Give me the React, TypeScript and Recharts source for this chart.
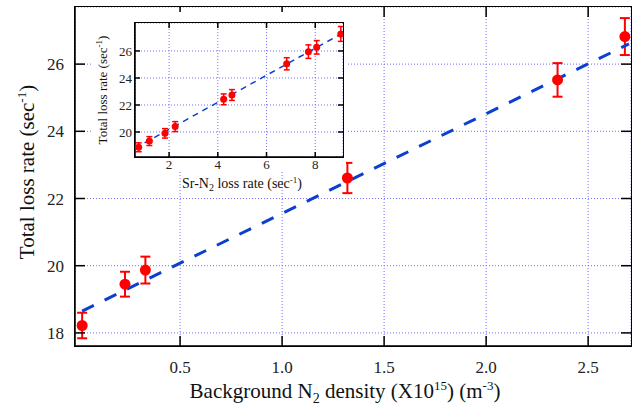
import { ScatterChart, Scatter, XAxis, YAxis, CartesianGrid, ErrorBar, Label } from 'recharts';

// main plot: total loss rate vs background N2 density
const densityX = [0.02, 0.23, 0.33, 1.32, 2.35, 2.68];
const totalLoss = [18.22, 19.45, 19.87, 22.61, 25.53, 26.82];
const totalErr = [0.38, 0.37, 0.4, 0.45, 0.5, 0.55];
const fitX = [0.02, 2.7];
const fitY = [18.65, 26.6];
const mainXTicks = [0.5, 1.0, 1.5, 2.0, 2.5];
const mainYTicks = [18, 20, 22, 24, 26];
const mainXDomain = [-0.015, 2.71];
const mainYDomain = [17.61, 27.7];

// inset: total loss rate vs Sr-N2 loss rate
const srLossX = [0.75, 1.19, 1.83, 2.25, 4.24, 4.58, 6.83, 7.72, 8.06, 9.05];
const insetLoss = [18.87, 19.33, 19.9, 20.4, 22.42, 22.74, 25.05, 25.95, 26.27, 27.26];
const insetErr = [0.33, 0.33, 0.35, 0.37, 0.4, 0.4, 0.45, 0.5, 0.5, 0.55];
const insetFitX = [0.6, 9.1];
const insetFitY = [18.8, 27.3];
const insetXTicks = [2, 4, 6, 8];
const insetYTicks = [20, 22, 24, 26];
const insetXDomain = [0.6, 9.14];
const insetYDomain = [18.15, 28.07];

const FONT = 'Liberation Serif';
const GRID = '#7070ff';
const RED = '#ff0000';
const BLUE = '#0c3fd0';

const mainPoints = densityX.map((x, i) => ({ x, y: totalLoss[i], err: totalErr[i] }));
const mainFit = fitX.map((x, i) => ({ x, y: fitY[i] }));
const insetPoints = srLossX.map((x, i) => ({ x, y: insetLoss[i], err: insetErr[i] }));
const insetFit = insetFitX.map((x, i) => ({ x, y: insetFitY[i] }));

const noShape = () => <g />;
const serif = { fontFamily: FONT };

function MainXTitle() {
  return (
    <text x={345} y={398} textAnchor="middle" fontFamily={FONT} style={serif} fontSize={21} fill="#111">
      Background N<tspan dy={5} fontSize={14}>2</tspan>
      <tspan dy={-5}> density (X10</tspan>
      <tspan dy={-8} fontSize={13}>15</tspan>
      <tspan dy={8}>) (m</tspan>
      <tspan dy={-8} fontSize={13}>-3</tspan>
      <tspan dy={8}>)</tspan>
    </text>
  );
}

function MainYTitle() {
  return (
    <text
      x={34}
      y={172}
      transform="rotate(-90, 34, 172)"
      textAnchor="middle"
      fontFamily={FONT}
      style={serif}
      fontSize={21}
      fill="#111"
    >
      Total loss rate (sec<tspan dy={-8} fontSize={13}>-1</tspan>
      <tspan dy={8}>)</tspan>
    </text>
  );
}

function InsetXTitle() {
  return (
    <text x={149} y={176} textAnchor="middle" fontFamily={FONT} style={serif} fontSize={14} fill="#111">
      Sr-N<tspan dy={3} fontSize={10}>2</tspan>
      <tspan dy={-3}> loss rate (sec</tspan>
      <tspan dy={-5} fontSize={9}>-1</tspan>
      <tspan dy={5}>)</tspan>
    </text>
  );
}

function InsetYTitle() {
  return (
    <text
      x={14}
      y={78}
      transform="rotate(-90, 14, 78)"
      textAnchor="middle"
      fontFamily={FONT}
      style={serif}
      fontSize={13}
      fill="#111"
    >
      Total loss rate (sec<tspan dy={-5} fontSize={9}>-1</tspan>
      <tspan dy={5}>)</tspan>
    </text>
  );
}

const axisLine = { stroke: '#000', strokeWidth: 1.5 };
const tickLine = { stroke: '#000', strokeWidth: 1.5 };

// separate overlay holding only the top and right tick marks (inward)
function MirrorAxes(props: {
  w: number; h: number; margin: any; xd: number[]; yd: number[];
  xt: number[]; yt: number[]; size: number; data: any[];
}) {
  const { w, h, margin, xd, yd, xt, yt, size, data } = props;
  return (
    <ScatterChart width={w} height={h} margin={margin}>
      <XAxis orientation="top" type="number" dataKey="x" domain={xd} ticks={xt} allowDataOverflow
        height={1} tickSize={-size} axisLine={false} tickLine={tickLine} tick={noShape} />
      <YAxis orientation="right" type="number" dataKey="y" domain={yd} ticks={yt} allowDataOverflow
        width={1} tickSize={-size} axisLine={false} tickLine={tickLine} tick={noShape} />
      <Scatter data={data} shape={noShape} isAnimationActive={false} />
    </ScatterChart>
  );
}

export default function App() {
  const mainTick = { fill: '#222', fontSize: 17, fontFamily: FONT, style: serif };
  const insetTick = { fill: '#222', fontSize: 13, fontFamily: FONT, style: serif };
  return (
    <div style={{ position: 'absolute', left: 0, top: 0, width: 634, height: 408, background: '#fff' }}>
      <ScatterChart width={634} height={408} margin={{ top: 7, right: 3, left: 0, bottom: 0 }}>
        <CartesianGrid stroke={GRID} strokeDasharray="1 2" strokeWidth={1} />
        <XAxis
          type="number"
          dataKey="x"
          domain={mainXDomain}
          ticks={mainXTicks}
          tickFormatter={(v: number) => v.toFixed(1)}
          allowDataOverflow
          height={62}
          tickSize={-10}
          tickMargin={25}
          axisLine={axisLine}
          tickLine={tickLine}
          tick={mainTick}
        >
          <Label content={MainXTitle} />
        </XAxis>
        <YAxis
          type="number"
          dataKey="y"
          domain={mainYDomain}
          ticks={mainYTicks}
          allowDataOverflow
          width={75}
          tickSize={-10}
          tickMargin={21}
          axisLine={axisLine}
          tickLine={tickLine}
          tick={mainTick}
        >
          <Label content={MainYTitle} />
        </YAxis>
        <Scatter
          data={mainFit}
          line={{ stroke: BLUE, strokeWidth: 3, strokeDasharray: '13 12' }}
          lineType="joint"
          shape={noShape}
          isAnimationActive={false}
        />
        <Scatter
          data={mainPoints}
          fill={RED}
          shape={(p: any) => <circle cx={p.cx} cy={p.cy} r={5.5} fill={RED} />}
          isAnimationActive={false}
        >
          <ErrorBar dataKey="err" direction="y" width={5} stroke={RED} strokeWidth={2} isAnimationActive={false} />
        </Scatter>
      </ScatterChart>
      <div style={{ position: 'absolute', left: 0, top: 0, pointerEvents: 'none' }}>
        <MirrorAxes w={634} h={408} margin={{ top: 6, right: 2, left: 75, bottom: 62 }}
          xd={mainXDomain} yd={mainYDomain} xt={mainXTicks} yt={mainYTicks} size={10} data={mainPoints} />
      </div>
      <div style={{ position: 'absolute', left: 74.25, top: 6.25, width: 557.5, height: 340.5, border: '1.5px solid #000', boxSizing: 'border-box', pointerEvents: 'none' }} />

      <div style={{ position: 'absolute', left: 93, top: 12, width: 253, height: 160, background: '#fff' }} />
      <div style={{ position: 'absolute', left: 93, top: 12 }}>
        <ScatterChart width={253} height={180} margin={{ top: 11, right: 3, left: 0, bottom: 0 }}>
          <CartesianGrid stroke={GRID} strokeDasharray="1 2" strokeWidth={1} />
          <XAxis
            type="number"
            dataKey="x"
            domain={insetXDomain}
            ticks={insetXTicks}
            allowDataOverflow
            height={35}
            tickSize={-5}
            tickMargin={8}
            axisLine={axisLine}
            tickLine={tickLine}
            tick={insetTick}
          >
            <Label content={InsetXTitle} />
          </XAxis>
          <YAxis
            type="number"
            dataKey="y"
            domain={insetYDomain}
            ticks={insetYTicks}
            allowDataOverflow
            width={42}
            tickSize={-5}
            tickMargin={8}
            axisLine={axisLine}
            tickLine={tickLine}
            tick={insetTick}
          >
            <Label content={InsetYTitle} />
          </YAxis>
          <Scatter
            data={insetFit}
            line={{ stroke: BLUE, strokeWidth: 1.5, strokeDasharray: '6 5' }}
            lineType="joint"
            shape={noShape}
            isAnimationActive={false}
          />
          <Scatter
            data={insetPoints}
            fill={RED}
            shape={(p: any) => <circle cx={p.cx} cy={p.cy} r={3.5} fill={RED} />}
            isAnimationActive={false}
          >
            <ErrorBar dataKey="err" direction="y" width={3} stroke={RED} strokeWidth={1.5} isAnimationActive={false} />
          </Scatter>
        </ScatterChart>
      </div>
      <div style={{ position: 'absolute', left: 93, top: 12, pointerEvents: 'none' }}>
        <MirrorAxes w={253} h={180} margin={{ top: 10, right: 2, left: 42, bottom: 35 }}
          xd={insetXDomain} yd={insetYDomain} xt={insetXTicks} yt={insetYTicks} size={5} data={insetPoints} />
      </div>
      <div style={{ position: 'absolute', left: 134.25, top: 22.25, width: 209.5, height: 135.5, border: '1.5px solid #000', boxSizing: 'border-box', pointerEvents: 'none' }} />
    </div>
  );
}
